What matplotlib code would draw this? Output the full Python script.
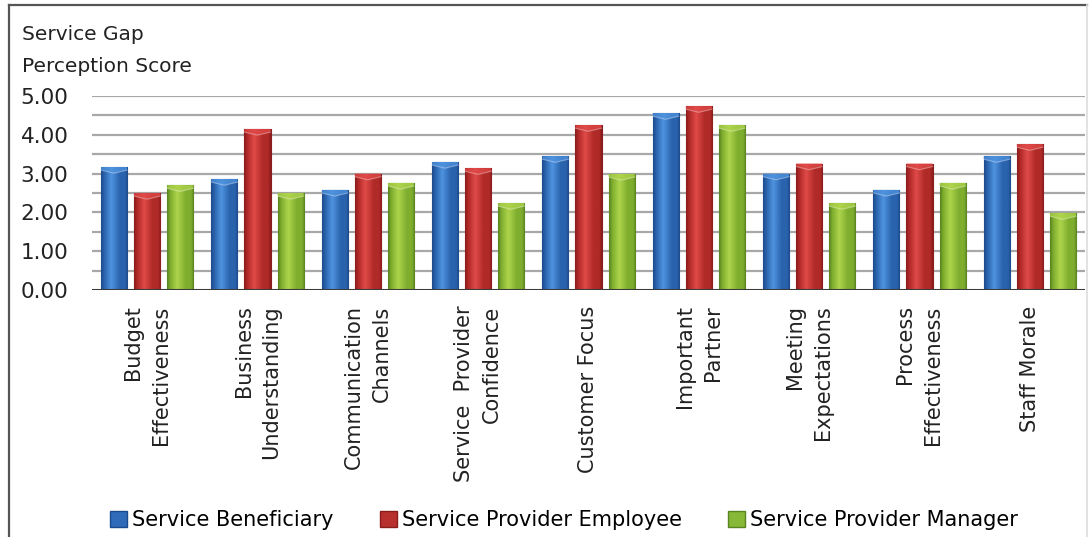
import numpy as np
import matplotlib
matplotlib.use("Agg")
import matplotlib.pyplot as plt
from matplotlib.colors import LinearSegmentedColormap
from matplotlib.patches import Patch
from matplotlib.lines import Line2D

categories = ["Budget\nEffectiveness", "Business\nUnderstanding", "Communication\nChannels",
              "Service  Provider\nConfidence", "Customer Focus", "Important\nPartner",
              "Meeting\nExpectations", "Process\nEffectiveness", "Staff Morale"]
series_names = ["Service Beneficiary", "Service Provider Employee", "Service Provider Manager"]
beneficiary = [3.17, 2.86, 2.58, 3.30, 3.45, 4.56, 3.00, 2.58, 3.45]
employee = [2.50, 4.15, 3.00, 3.14, 4.25, 4.74, 3.26, 3.26, 3.76]
manager = [2.70, 2.50, 2.76, 2.24, 2.99, 4.25, 2.24, 2.76, 1.98]
yticks = [0, 1, 2, 3, 4, 5]
ytick_labels = ["0.00", "1.00", "2.00", "3.00", "4.00", "5.00"]
ylabel_lines = ["Service Gap", "Perception Score"]

series = [beneficiary, employee, manager]
palettes = [
    ("#1d4a8c", "#4f93df", "#2a63ad"),
    ("#8a1c1c", "#e04a48", "#b02a28"),
    ("#5a8420", "#aed44c", "#7fae2e"),
]
legend_colors = ["#2f6bb8", "#b8302e", "#88b838"]

W, H = 1090, 537
fig = plt.figure(figsize=(W / 100, H / 100), dpi=100)
ax = fig.add_axes([92 / W, 1 - 290 / H, (1085 - 92) / W, (290 - 96) / H])

x = np.arange(len(categories))
bw = 0.236
step = 0.30
ax.set_xlim(-0.5, len(categories) - 0.5)
ax.set_ylim(0, 5)

# gridlines
for g in np.arange(0.5, 5.01, 0.5):
    ax.axhline(g, color="#a8a8a8", lw=1.6, zorder=1)
ax.axhline(0, color="#3a3a3a", lw=2.2, zorder=5)

for si, vals in enumerate(series):
    dark, light, mid = palettes[si]
    cmap = LinearSegmentedColormap.from_list(
        "c%d" % si, [(0, dark), (0.12, mid), (0.38, light), (0.7, mid), (0.9, mid), (1, dark)])
    grad = np.linspace(0, 1, 64).reshape(1, -1)
    bars = ax.bar(x + (si - 1) * step, vals, width=bw, color=mid, edgecolor=dark,
                  linewidth=0.8, zorder=3)
    for b in bars:
        x0, w, h = b.get_x(), b.get_width(), b.get_height()
        im = ax.imshow(grad, cmap=cmap, extent=[x0, x0 + w, 0, h], aspect="auto",
                       zorder=3.5, interpolation="bilinear")
        im.set_clip_path(b)
        # chevron-like lighter cap
        cap = 0.16
        ax.fill([x0, x0 + w, x0 + w, x0 + w / 2, x0], [h, h, h - cap * 0.5, h - cap, h - cap * 0.5],
                color=light, alpha=0.75, lw=0, zorder=4)
        ax.plot([x0, x0 + w / 2, x0 + w], [h - cap * 0.5, h - cap, h - cap * 0.5],
                color="white", alpha=0.35, lw=0.8, zorder=4)

for s in ["top", "right", "left", "bottom"]:
    ax.spines[s].set_visible(False)
ax.set_yticks(yticks)
ax.set_yticklabels(ytick_labels, fontsize=15.5, color="#222222")
ax.tick_params(axis="y", length=0, pad=17)
ax.set_xticks(x)
ax.set_xticklabels(categories, rotation=90, fontsize=15, color="#222222",
                   va="top", ha="center", multialignment="right", linespacing=1.5)
ax.tick_params(axis="x", length=0, pad=11)
ax.set_facecolor("none")

fig.text(22 / W, 1 - 35 / H, ylabel_lines[0], fontsize=14.5, va="center", ha="left", color="#222222")
fig.text(22 / W, 1 - 66 / H, ylabel_lines[1], fontsize=14.5, va="center", ha="left", color="#222222")

handles = [Patch(facecolor=legend_colors[i], edgecolor=palettes[i][0]) for i in range(3)]
fig.legend(handles, series_names, loc="center", bbox_to_anchor=(564 / W, 1 - 520 / H),
           ncol=3, frameon=False, fontsize=15, handlelength=0.82, handleheight=0.82,
           handletextpad=0.25, columnspacing=2.2, borderpad=0)

# outer frame
fig.add_artist(Line2D([9 / W, 9 / W], [0, 1 - 5 / H], color="#555555", lw=1.6))
fig.add_artist(Line2D([9 / W, 1087 / W], [1 - 5 / H, 1 - 5 / H], color="#555555", lw=1.6))
fig.add_artist(Line2D([1087 / W, 1087 / W], [0, 1 - 5 / H], color="#dddddd", lw=1.2))

fig.savefig("out.png", dpi=100)
